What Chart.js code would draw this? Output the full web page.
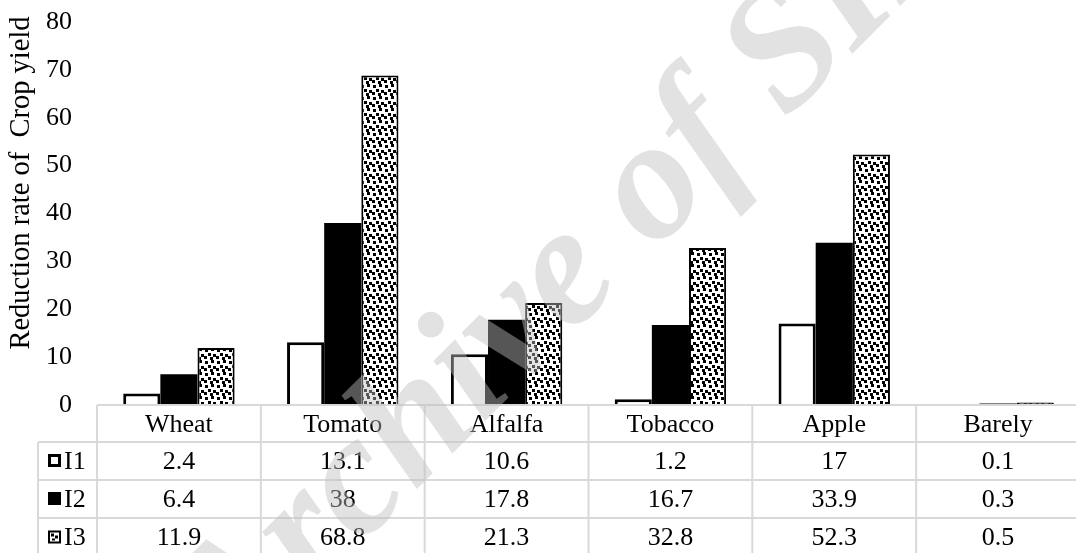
<!DOCTYPE html>
<html>
<head>
<meta charset="utf-8">
<script src="https://cdn.jsdelivr.net/npm/chart.js@4.4.0/dist/chart.umd.min.js"></script>
<style>
  html, body { margin: 0; padding: 0; background: #fff; overflow: hidden; }
  #wrap { width: 1080px; height: 553px; }
</style>
</head>
<body>
<div id="wrap"><canvas id="cropChart"></canvas></div>
<script>
const crops = ["Wheat", "Tomato", "Alfalfa", "Tobacco", "Apple", "Barely"];
const seriesNames = ["I1", "I2", "I3"];
const i1Values = [2.4, 13.1, 10.6, 1.2, 17, 0.1];
const i2Values = [6.4, 38, 17.8, 16.7, 33.9, 0.3];
const i3Values = [11.9, 68.8, 21.3, 32.8, 52.3, 0.5];
const yTicks = [0, 10, 20, 30, 40, 50, 60, 70, 80];
const yTitle = "Reduction rate of  Crop yield";

const FONT = "'Liberation Serif', 'Times New Roman', serif";
const canvas = document.getElementById("cropChart");
const mainCtx = canvas.getContext("2d");

// small "confetti" fill like the Excel pattern
function confetti() {
  const c = document.createElement("canvas");
  c.width = 12; c.height = 12;
  const g = c.getContext("2d");
  g.fillStyle = "#fff";
  g.fillRect(0, 0, 12, 12);
  g.fillStyle = "#000";
  [[1, 1], [7, 0], [4, 5], [9, 6], [0, 8], [6, 9]].forEach(([x, y]) => g.fillRect(x, y, 3, 3));
  return mainCtx.createPattern(c, "repeat");
}
const dots = confetti();

const tablePlugin = {
  id: "dataTable",
  afterDraw(chart) {
    const ctx = chart.ctx;
    const xs = chart.scales.x;
    const area = chart.chartArea;
    const colW = (area.right - area.left) / crops.length;
    const rows = [area.bottom, 442, 480, 518, 557];
    const left = 38;
    const values = [i1Values, i2Values, i3Values];

    ctx.save();
    ctx.strokeStyle = "#d9d9d9";
    ctx.lineWidth = 2;
    ctx.beginPath();
    rows.forEach((y, i) => {
      ctx.moveTo(i === 0 ? area.left : left, y);
      ctx.lineTo(area.right, y);
    });
    ctx.moveTo(area.left, rows[0]);
    ctx.lineTo(area.left, rows[4]);
    ctx.moveTo(left, rows[1]);
    ctx.lineTo(left, rows[4]);
    crops.forEach((c, i) => {
      const xr = xs.getPixelForValue(i) + colW / 2;
      ctx.moveTo(xr, rows[0]);
      ctx.lineTo(xr, rows[4]);
    });
    ctx.stroke();

    ctx.fillStyle = "#000";
    ctx.font = "26px " + FONT;
    ctx.textAlign = "center";
    ctx.textBaseline = "middle";
    crops.forEach((c, i) => {
      const cx = xs.getPixelForValue(i);
      ctx.fillText(c, cx, (rows[0] + rows[1]) / 2 + 2);
      values.forEach((vals, r) => {
        ctx.fillText(String(vals[i]), cx, (rows[r + 1] + rows[r + 2]) / 2 + 1);
      });
    });

    // legend keys + series names
    ctx.textAlign = "left";
    seriesNames.forEach((name, r) => {
      const cy = (rows[r + 1] + rows[r + 2]) / 2;
      const kx = 48, ky = cy - 7, ks = 13;
      if (r === 0) {
        ctx.fillStyle = "#fff";
        ctx.fillRect(kx, ky, ks, ks);
        ctx.strokeStyle = "#000";
        ctx.lineWidth = 3;
        ctx.strokeRect(kx + 1.5, ky + 1.5, ks - 3, ks - 3);
      } else if (r === 1) {
        ctx.fillStyle = "#000";
        ctx.fillRect(kx, ky, ks, ks);
      } else {
        ctx.fillStyle = "#000";
        ctx.fillRect(kx, ky, ks, ks);
        ctx.fillStyle = "#fff";
        ctx.fillRect(kx + 2, ky + 2, ks - 4, ks - 4);
        ctx.fillStyle = "#000";
        ctx.fillRect(kx + 3, ky + 3, 3, 3);
        ctx.fillRect(kx + 7, ky + 5, 3, 3);
        ctx.fillRect(kx + 4, ky + 8, 3, 2);
      }
      ctx.fillStyle = "#000";
      ctx.fillText(name, kx + ks + 3, cy + 1);
    });

    // y axis title
    ctx.save();
    ctx.translate(22, 183);
    ctx.rotate(-Math.PI / 2);
    ctx.textAlign = "center";
    ctx.font = "28.5px " + FONT;
    ctx.fillText(yTitle, 0, 0);
    ctx.restore();

    // watermark
    ctx.save();
    ctx.translate(232, 674);
    ctx.rotate(-Math.PI / 4);
    ctx.font = "italic bold 172px " + FONT;
    ctx.textAlign = "left";
    ctx.textBaseline = "alphabetic";
    ctx.fillStyle = "rgba(190,190,190,0.45)";
    ctx.fillText("Archive of SID", 0, 0);
    ctx.restore();

    ctx.restore();
  }
};

new Chart(canvas, {
  type: "bar",
  data: {
    labels: crops,
    datasets: [
      { label: seriesNames[0], data: i1Values, backgroundColor: "#fff", borderColor: "#000", borderWidth: 3 },
      { label: seriesNames[1], data: i2Values, backgroundColor: "#000", borderWidth: 0 },
      { label: seriesNames[2], data: i3Values, backgroundColor: dots, borderColor: "#000", borderWidth: 2 },
    ],
  },
  options: {
    responsive: true,
    maintainAspectRatio: false,
    animation: false,
    devicePixelRatio: 1,
    layout: { padding: { top: 22, bottom: 148, left: 0, right: 0 } },
    datasets: { bar: { categoryPercentage: 0.68, barPercentage: 1 } },
    plugins: { legend: { display: false }, tooltip: { enabled: false } },
    scales: {
      x: { display: false },
      y: {
        min: 0,
        max: 80,
        afterBuildTicks: (s) => { s.ticks = yTicks.map((v) => ({ value: v })); },
        afterFit: (s) => { s.width = 97; },
        grid: { display: false, drawTicks: true, tickLength: 25 },
        border: { display: false },
        ticks: { color: "#000", padding: 0, font: { family: FONT, size: 26 } },
      },
    },
  },
  plugins: [tablePlugin],
});
</script>
</body>
</html>
